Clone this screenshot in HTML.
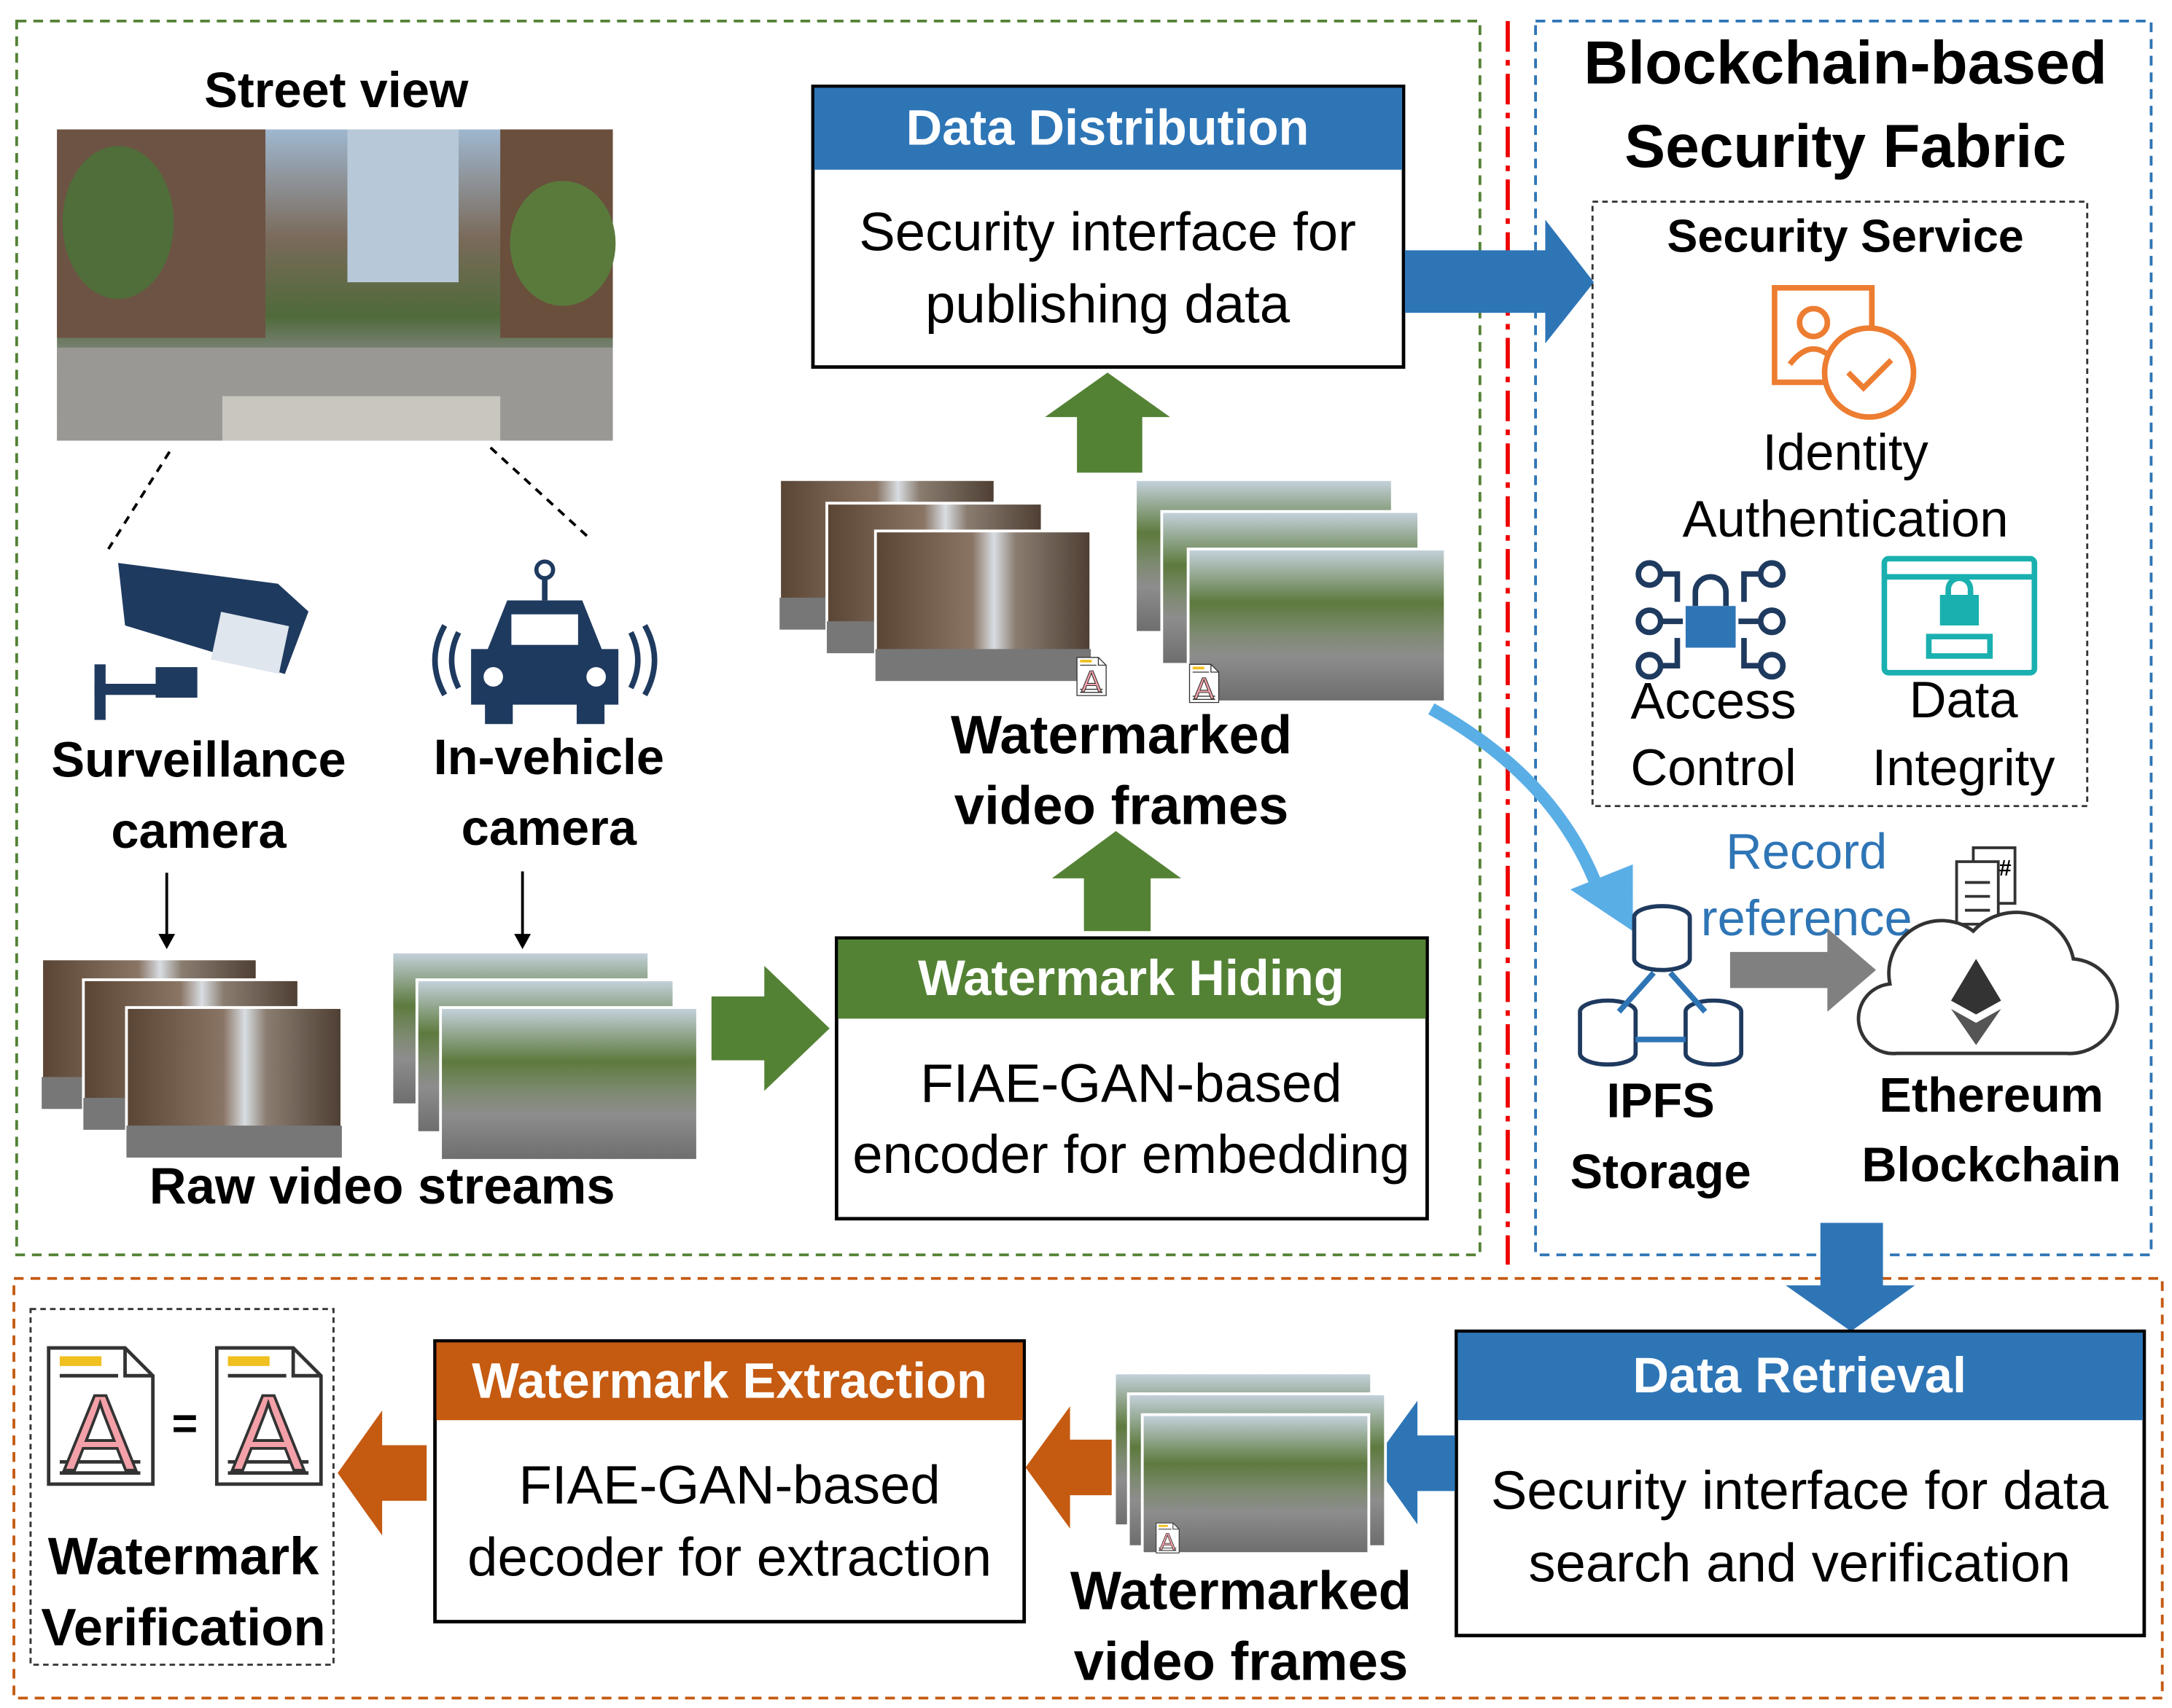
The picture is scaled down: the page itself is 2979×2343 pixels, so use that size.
<!DOCTYPE html>
<html><head><meta charset="utf-8"><style>
html,body{margin:0;padding:0;background:#fff;}
svg{display:block;}
text{font-family:"Liberation Sans",sans-serif;}
.b{font-weight:bold;}
</style></head><body>
<svg width="2979" height="2343" viewBox="0 0 1563 1229" xmlns="http://www.w3.org/2000/svg">
<defs>
<linearGradient id="st" x1="0" y1="0" x2="0" y2="1">
<stop offset="0" stop-color="#9fb7cf"/><stop offset="0.35" stop-color="#7a6a5a"/><stop offset="0.6" stop-color="#4f6a3a"/><stop offset="0.75" stop-color="#8a8a8a"/><stop offset="1" stop-color="#b5b2ad"/></linearGradient>
<linearGradient id="cityL" x1="0" y1="0" x2="1" y2="0">
<stop offset="0" stop-color="#5a4535"/><stop offset="0.45" stop-color="#8a7565"/><stop offset="0.55" stop-color="#d8dde2"/><stop offset="0.65" stop-color="#8a7d70"/><stop offset="1" stop-color="#4e3e33"/></linearGradient>
<linearGradient id="road" x1="0" y1="0" x2="0" y2="1">
<stop offset="0" stop-color="#c6d3de"/><stop offset="0.35" stop-color="#5e7a3e"/><stop offset="0.55" stop-color="#7d8a70"/><stop offset="0.7" stop-color="#8d8d8d"/><stop offset="1" stop-color="#6d6d6d"/></linearGradient>
<g id="fL"><rect width="155" height="108" fill="url(#cityL)" stroke="#fff" stroke-width="2"/><rect y="85" width="155" height="23" fill="#777"/></g>
<g id="fR"><rect width="185" height="110" fill="url(#road)" stroke="#fff" stroke-width="2"/></g>
<g id="doc"><path d="M0 0h55l20 20v78h-75z" fill="#fff" stroke="#333" stroke-width="2.5"/><path d="M55 0v20h20" fill="none" stroke="#333" stroke-width="2.5"/><rect x="8" y="6" width="30" height="7" fill="#f0c020"/><line x1="8" y1="20" x2="50" y2="20" stroke="#333" stroke-width="2.5"/><line x1="8" y1="82" x2="66" y2="82" stroke="#333" stroke-width="2.5"/><line x1="8" y1="90" x2="66" y2="90" stroke="#333" stroke-width="2.5"/><text x="37" y="88" font-size="78" text-anchor="middle" fill="#f4a0a8" stroke="#333" stroke-width="2">A</text></g>
</defs>

<rect x="12" y="15" width="1053" height="888" fill="none" stroke="#548235" stroke-width="2" stroke-dasharray="7,5"/>
<rect x="1105" y="15" width="443" height="888" fill="none" stroke="#2e75b6" stroke-width="2" stroke-dasharray="7,5"/>
<line x1="1085" y1="15" x2="1085" y2="910" stroke="#e00" stroke-width="3" stroke-dasharray="22,6,4,6"/>
<rect x="10" y="920" width="1546" height="302" fill="none" stroke="#c55a11" stroke-width="2" stroke-dasharray="7,5"/>

<text x="242" y="77" font-size="36" class="b" text-anchor="middle">Street view</text>
<rect x="41" y="93" width="400" height="224" fill="url(#st)"/>
<rect x="250" y="93" width="80" height="110" fill="#b7c9d9"/>
<rect x="41" y="93" width="150" height="150" fill="#6d5343"/>
<rect x="360" y="93" width="81" height="150" fill="#6a4f3c"/>
<ellipse cx="85" cy="160" rx="40" ry="55" fill="#4f6e3a"/>
<ellipse cx="405" cy="175" rx="38" ry="45" fill="#5a7a3c"/>
<rect x="41" y="250" width="400" height="67" fill="#9a9894"/>
<rect x="160" y="285" width="200" height="32" fill="#c9c6c0"/>
<line x1="122" y1="325" x2="78" y2="395" stroke="#000" stroke-width="2" stroke-dasharray="6,5"/>
<line x1="353" y1="322" x2="425" y2="388" stroke="#000" stroke-width="2" stroke-dasharray="6,5"/>

<g fill="#1f3a5f">
<path d="M85 405 L200 420 L222 440 L205 485 L90 450 Z"/>
<rect x="155" y="445" width="50" height="35" fill="#dfe6ee" transform="rotate(12 180 462)"/>
<rect x="112" y="480" width="30" height="22"/>
<rect x="68" y="478" width="8" height="40"/>
<rect x="68" y="492" width="48" height="8"/>
</g>
<g fill="#1f3a5f">
<circle cx="392" cy="410" r="6" fill="none" stroke="#1f3a5f" stroke-width="3"/>
<line x1="392" y1="416" x2="392" y2="432" stroke="#1f3a5f" stroke-width="4"/>
<path d="M365 432h54l14 35h12v40h-10v14h-20v-14h-46v14h-20v-14h-10v-40h12z"/>
<rect x="368" y="442" width="48" height="22" fill="#fff"/>
<circle cx="355" cy="487" r="7" fill="#fff"/><circle cx="429" cy="487" r="7" fill="#fff"/>
<path d="M330 455q-10 20 0 40M320 450q-14 25 0 50M454 455q10 20 0 40M464 450q14 25 0 50" fill="none" stroke="#1f3a5f" stroke-width="4"/>
</g>
<text x="143" y="559" font-size="36" class="b" text-anchor="middle">Surveillance</text>
<text x="143" y="610" font-size="36" class="b" text-anchor="middle">camera</text>
<text x="395" y="557" font-size="36" class="b" text-anchor="middle">In-vehicle</text>
<text x="395" y="608" font-size="36" class="b" text-anchor="middle">camera</text>
<line x1="120" y1="628" x2="120" y2="680" stroke="#000" stroke-width="2"/><path d="M114 672l6 11 6-11z"/>
<line x1="376" y1="627" x2="376" y2="680" stroke="#000" stroke-width="2"/><path d="M370 672l6 11 6-11z"/>

<use href="#fL" x="30" y="690"/><use href="#fL" x="60" y="705"/><use href="#fL" x="91" y="725"/>
<use href="#fR" x="282" y="685"/><use href="#fR" x="300" y="705"/><use href="#fR" x="317" y="725"/>
<text x="275" y="866" font-size="37" class="b" text-anchor="middle">Raw video streams</text>

<path d="M512 717h38v-22l47 45-47 45v-22h-38z" fill="#548235"/>

<rect x="602" y="675" width="425" height="202" fill="#fff" stroke="#000" stroke-width="2.5"/>
<rect x="603" y="676" width="423" height="57" fill="#548235"/>
<text x="814" y="716" font-size="36" class="b" fill="#fff" text-anchor="middle">Watermark Hiding</text>
<text x="814" y="793" font-size="39" text-anchor="middle">FIAE-GAN-based</text>
<text x="814" y="844" font-size="39" text-anchor="middle">encoder for embedding</text>

<path d="M780 670v-38h-23l46-34 47 34h-22v38z" fill="#548235"/>
<path d="M775 340v-40h-23l45-32 45 32h-20v40z" fill="#548235"/>

<use href="#fL" x="561" y="345"/><use href="#fL" x="595" y="362"/><use href="#fL" x="630" y="382"/>
<use href="#fR" x="817" y="345"/><use href="#fR" x="836" y="368"/><use href="#fR" x="855" y="395"/>
<g transform="translate(775,473) scale(0.28)"><use href="#doc"/></g>
<g transform="translate(856,478) scale(0.28)"><use href="#doc"/></g>
<text x="807" y="542" font-size="39" class="b" text-anchor="middle">Watermarked</text>
<text x="807" y="593" font-size="39" class="b" text-anchor="middle">video frames</text>

<rect x="585" y="62" width="425" height="202" fill="#fff" stroke="#000" stroke-width="2.5"/>
<rect x="586" y="63" width="423" height="59" fill="#2e75b6"/>
<text x="797" y="104" font-size="36" class="b" fill="#fff" text-anchor="middle">Data Distribution</text>
<text x="797" y="180" font-size="39" text-anchor="middle">Security interface for</text>
<text x="797" y="232" font-size="39" text-anchor="middle">publishing data</text>

<path d="M1011 180h101v-22l35 45-35 44v-22h-101z" fill="#2e75b6"/>

<text x="1328" y="60" font-size="44" class="b" text-anchor="middle">Blockchain-based</text>
<text x="1328" y="120" font-size="44" class="b" text-anchor="middle">Security Fabric</text>
<rect x="1146" y="145" width="356" height="435" fill="none" stroke="#333" stroke-width="1.5" stroke-dasharray="4,3"/>
<text x="1328" y="181" font-size="33" class="b" text-anchor="middle">Security Service</text>
<g fill="none" stroke="#ed7d31" stroke-width="4">
<rect x="1277" y="207" width="70" height="68"/>
<circle cx="1305" cy="232" r="10"/>
<path d="M1288 262q17-22 34 0"/>
<circle cx="1345" cy="268" r="32" fill="#fff"/>
<path d="M1330 268l11 11 20-20"/>
</g>
<text x="1328" y="338" font-size="37" text-anchor="middle">Identity</text>
<text x="1328" y="386" font-size="37" text-anchor="middle">Authentication</text>
<g stroke="#1f3a5f" stroke-width="4" fill="none">
<circle cx="1187" cy="413" r="8"/><circle cx="1187" cy="447" r="8"/><circle cx="1187" cy="479" r="8"/>
<circle cx="1275" cy="413" r="8"/><circle cx="1275" cy="447" r="8"/><circle cx="1275" cy="479" r="8"/>
<path d="M1195 413h12v20M1195 479h12v-20M1195 447h16M1267 413h-12v20M1267 479h-12v-20M1267 447h-16"/>
<path d="M1220 436v-10a11 11 0 0 1 22 0v10"/>
</g>
<rect x="1213" y="436" width="36" height="30" fill="#2e75b6"/>
<text x="1233" y="517" font-size="37" text-anchor="middle">Access</text>
<text x="1233" y="565" font-size="37" text-anchor="middle">Control</text>
<g stroke="#1ab0b0" stroke-width="4" fill="none">
<rect x="1356" y="402" width="108" height="82" rx="3"/>
<line x1="1356" y1="415" x2="1464" y2="415"/>
<rect x="1388" y="458" width="44" height="14"/>
<rect x="1398" y="430" width="24" height="18" fill="#1ab0b0"/>
<path d="M1402 430v-6a8 8 0 0 1 16 0v6"/>
</g>
<text x="1413" y="516" font-size="37" text-anchor="middle">Data</text>
<text x="1413" y="565" font-size="37" text-anchor="middle">Integrity</text>

<path d="M1030 510 Q1120 560 1150 640" fill="none" stroke="#5aaee6" stroke-width="9"/>
<path d="M1130 640l45 30 0-48z" fill="#5aaee6"/>
<text x="1300" y="625" font-size="36" fill="#2e75b6" text-anchor="middle">Record</text>
<text x="1300" y="673" font-size="36" fill="#2e75b6" text-anchor="middle">reference</text>

<g stroke="#1f3a5f" stroke-width="3" fill="#fff">
<ellipse cx="1196" cy="660" rx="20" ry="8"/><path d="M1176 660v30a20 8 0 0 0 40 0v-30"/>
<ellipse cx="1157" cy="728" rx="20" ry="8"/><path d="M1137 728v30a20 8 0 0 0 40 0v-30"/>
<ellipse cx="1233" cy="728" rx="20" ry="8"/><path d="M1213 728v30a20 8 0 0 0 40 0v-30"/>
</g>
<path d="M1190 700l-25 28M1202 700l25 28M1177 748h36" stroke="#2e75b6" stroke-width="4"/>
<path d="M1245 685h70v-17l35 30-35 30v-17h-70z" fill="#808080"/>
<g stroke="#333" stroke-width="2" fill="#fff">
<path d="M1420 610h30v40h-30z"/><path d="M1408 620h30v45h-30z"/>
<line x1="1414" y1="635" x2="1432" y2="635"/><line x1="1414" y1="645" x2="1432" y2="645"/><line x1="1414" y1="655" x2="1432" y2="655"/>
</g>
<text x="1443" y="630" font-size="16" text-anchor="middle" class="b">#</text>
<path d="M1365 758 a25 25 0 0 1 -5 -50 a38 38 0 0 1 60 -38 a42 42 0 0 1 72 20 a32 32 0 0 1 -5 68 z" fill="#fff" stroke="#333" stroke-width="2.5"/>
<path d="M1422 690l-18 30 18 10 18-10z" fill="#333"/><path d="M1404 726l18 26 18-26-18 10z" fill="#555"/>
<text x="1195" y="804" font-size="35" class="b" text-anchor="middle">IPFS</text>
<text x="1195" y="855" font-size="35" class="b" text-anchor="middle">Storage</text>
<text x="1433" y="800" font-size="35" class="b" text-anchor="middle">Ethereum</text>
<text x="1433" y="850" font-size="35" class="b" text-anchor="middle">Blockchain</text>

<path d="M1310 880h45v45h23l-46 33-47-33h25z" fill="#2e75b6"/>

<rect x="1048" y="958" width="495" height="219" fill="#fff" stroke="#000" stroke-width="2.5"/>
<rect x="1049" y="959" width="493" height="63" fill="#2e75b6"/>
<text x="1295" y="1002" font-size="36" class="b" fill="#fff" text-anchor="middle">Data Retrieval</text>
<text x="1295" y="1086" font-size="39" text-anchor="middle">Security interface for data</text>
<text x="1295" y="1138" font-size="39" text-anchor="middle">search and verification</text>

<path d="M1047 1033h-27v-25l-32 44 32 45v-24h27z" fill="#2e75b6"/>

<use href="#fR" x="802" y="988"/><use href="#fR" x="812" y="1003"/>
<rect x="822" y="1018" width="163" height="100" fill="url(#road)" stroke="#fff" stroke-width="2"/>
<g transform="translate(832,1096) scale(0.22)"><use href="#doc"/></g>
<text x="893" y="1158" font-size="39" class="b" text-anchor="middle">Watermarked</text>
<text x="893" y="1209" font-size="39" class="b" text-anchor="middle">video frames</text>

<path d="M800 1036h-30v-24l-32 44 32 44v-24h30z" fill="#c55a11"/>
<path d="M307 1040h-32v-25l-32 45 32 45v-25h32z" fill="#c55a11"/>

<rect x="313" y="965" width="424" height="202" fill="#fff" stroke="#000" stroke-width="2.5"/>
<rect x="314" y="966" width="422" height="56" fill="#c55a11"/>
<text x="525" y="1006" font-size="36" class="b" fill="#fff" text-anchor="middle">Watermark Extraction</text>
<text x="525" y="1082" font-size="39" text-anchor="middle">FIAE-GAN-based</text>
<text x="525" y="1134" font-size="39" text-anchor="middle">decoder for extraction</text>

<rect x="22" y="942" width="218" height="256" fill="none" stroke="#333" stroke-width="1.5" stroke-dasharray="4,3"/>
<use href="#doc" x="35" y="970"/><use href="#doc" x="156" y="970"/>
<text x="133" y="1035" font-size="32" class="b" text-anchor="middle">=</text>
<text x="132" y="1133" font-size="38" class="b" text-anchor="middle">Watermark</text>
<text x="132" y="1184" font-size="38" class="b" text-anchor="middle">Verification</text>
</svg>
</body></html>
